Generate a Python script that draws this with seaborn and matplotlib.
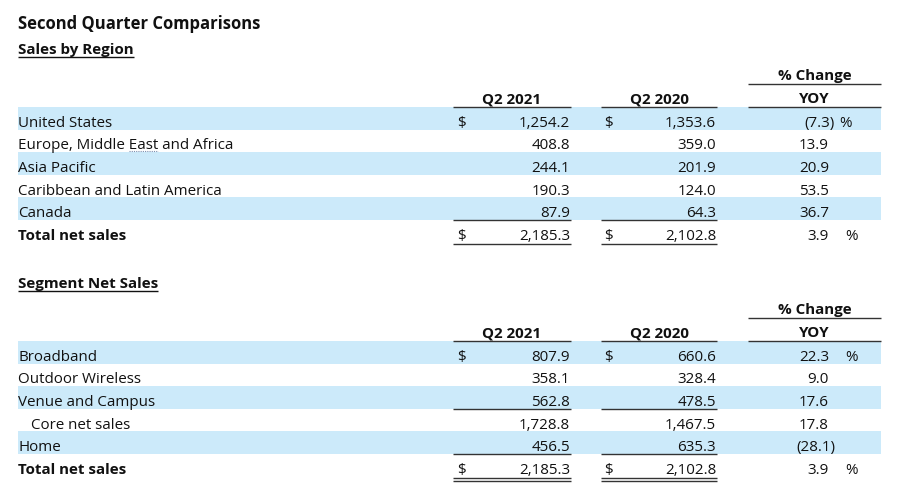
import matplotlib
matplotlib.use("Agg")
import matplotlib.pyplot as plt
import seaborn as sns
import pandas as pd

regions = ["United States", "Europe, Middle East and Africa", "Asia Pacific",
           "Caribbean and Latin America", "Canada"]
region_q2_2021 = [1254.2, 408.8, 244.1, 190.3, 87.9]
region_q2_2020 = [1353.6, 359.0, 201.9, 124.0, 64.3]
region_yoy = [-7.3, 13.9, 20.9, 53.5, 36.7]
region_total = [2185.3, 2102.8, 3.9]

segments = ["Broadband", "Outdoor Wireless", "Venue and Campus",
            "Core net sales", "Home"]
segment_q2_2021 = [807.9, 358.1, 562.8, 1728.8, 456.5]
segment_q2_2020 = [660.6, 328.4, 478.5, 1467.5, 635.3]
segment_yoy = [22.3, 9.0, 17.6, 17.8, -28.1]
segment_total = [2185.3, 2102.8, 3.9]

col_headers = ["Q2 2021", "Q2 2020", "YOY"]

sns.set_theme(style="white")
plt.rcParams['font.family'] = ['Open Sans', 'DejaVu Sans']

BAND = '#cceafa'
INK = '#111111'
FS = 10.9
ROW_H = 22.6

# column geometry (pixels)
cols = [(453, 571), (601, 717), (748, 881)]
dollar_x = [457, 604]
num_right = [570, 716, 829]
pct_x = 845


def money(v):
    return f"{v:,.1f}"


def pct(v):
    return f"({abs(v):.1f})" if v < 0 else f"{v:.1f}"


def text_span(ax, x, y, s, **kw):
    t = ax.text(x, y, s, **kw)
    ax.figure.canvas.draw()
    bb = t.get_window_extent().transformed(ax.transData.inverted())
    return t, bb.x0, bb.x1


def draw_table(ax, df, total, top, heading, heading_y, rule_after, double_total):
    # section heading, bold and underlined
    _, hx0, hx1 = text_span(ax, 18, heading_y, heading, fontsize=FS,
                            fontweight='bold', color=INK, va='baseline')
    ax.hlines(heading_y + 2.6, hx0, hx1, color=INK, lw=1.0)

    # column headers
    ax.text(sum(cols[2]) / 2, top - 27, "% Change", fontsize=FS, fontweight='bold',
            color=INK, ha='center', va='baseline')
    ax.hlines(top - 23, cols[2][0], cols[2][1], color='#333333', lw=1.0)
    for (x0, x1), name in zip(cols, col_headers):
        ax.text((x0 + x1) / 2, top - 4, name, fontsize=FS, fontweight='bold',
                color=INK, ha='center', va='baseline')
        ax.hlines(top, x0, x1, color='#333333', lw=1.0)

    n = len(df)
    for i, row in df.iterrows():
        y0 = top + i * ROW_H
        if i % 2 == 0:
            ax.fill_between([18, 881], y0, y0 + ROW_H, color=BAND, lw=0)
        base = y0 + ROW_H - 2.8
        label = row['name']
        lx = 31 if label == "Core net sales" else 18
        ax.text(lx, base, label, fontsize=FS, color=INK, va='baseline')
        ax.text(num_right[0], base, money(row['q2_2021']), fontsize=FS,
                color=INK, ha='right', va='baseline')
        ax.text(num_right[1], base, money(row['q2_2020']), fontsize=FS,
                color=INK, ha='right', va='baseline')
        yoy = row['yoy']
        ax.text(num_right[2] + (6 if yoy < 0 else 0), base, pct(yoy), fontsize=FS,
                color=INK, ha='right', va='baseline')
        if i == 0:
            ax.text(dollar_x[0], base, "$", fontsize=FS, color=INK, va='baseline')
            ax.text(dollar_x[1], base, "$", fontsize=FS, color=INK, va='baseline')
            ax.text(pct_x - (6 if yoy < 0 else 0), base, "%", fontsize=FS,
                    color=INK, va='baseline')
        if i in rule_after:
            for x0, x1 in cols[:2]:
                ax.hlines(y0 + ROW_H, x0, x1, color='#333333', lw=1.0)

    # total row
    y0 = top + n * ROW_H
    base = y0 + ROW_H - 2.8
    ax.text(18, base, "Total net sales", fontsize=FS, fontweight='bold',
            color=INK, va='baseline')
    for k in range(2):
        ax.text(dollar_x[k], base, "$", fontsize=FS, color=INK, va='baseline')
        ax.text(num_right[k], base, money(total[k]), fontsize=FS, color=INK,
                ha='right', va='baseline')
        x0, x1 = cols[k]
        ax.hlines(y0 + ROW_H + 1, x0, x1, color='#333333', lw=1.0)
        if double_total:
            ax.hlines(y0 + ROW_H + 4, x0, x1, color='#333333', lw=1.0)
    ax.text(num_right[2], base, pct(total[2]), fontsize=FS, color=INK,
            ha='right', va='baseline')
    ax.text(pct_x, base, "%", fontsize=FS, color=INK, va='baseline')


region_df = pd.DataFrame({'name': regions, 'q2_2021': region_q2_2021,
                          'q2_2020': region_q2_2020, 'yoy': region_yoy})
segment_df = pd.DataFrame({'name': segments, 'q2_2021': segment_q2_2021,
                           'q2_2020': segment_q2_2020, 'yoy': segment_yoy})

fig = plt.figure(figsize=(9, 5.03), dpi=100)
ax = fig.add_axes([0, 0, 1, 1])
ax.set_xlim(0, 900)
ax.set_ylim(503, 0)
ax.axis('off')

ax.text(18, 29, "Second Quarter Comparisons", fontsize=12, fontweight='bold',
        color=INK, va='baseline')

draw_table(ax, region_df, region_total, 107, "Sales by Region", 54,
           rule_after=[4], double_total=False)
draw_table(ax, segment_df, segment_total, 341, "Segment Net Sales", 288,
           rule_after=[2, 4], double_total=True)

# spell-check squiggle under "East"
t1, _, e0 = text_span(ax, 18, -50, "Europe, Middle ", fontsize=FS)
t2, _, e1 = text_span(ax, 18, -50, "Europe, Middle East", fontsize=FS)
t1.remove()
t2.remove()
ax.plot([e0, e1], [150.5, 150.5], color='#7a8fb0', lw=0.8, ls=(0, (1, 1)))

fig.savefig('out.png', dpi=100)
